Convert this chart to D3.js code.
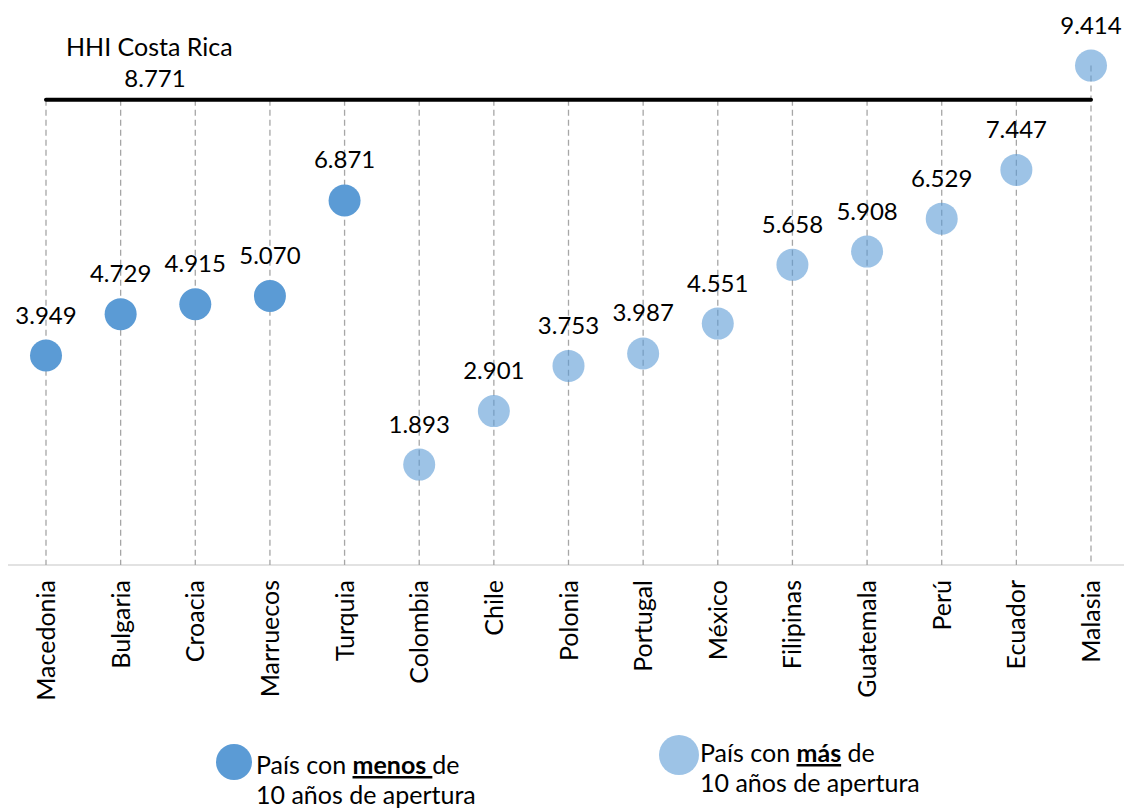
<!DOCTYPE html>
<html>
<head>
<meta charset="utf-8">
<script src="https://cdn.jsdelivr.net/npm/d3@7"></script>
<style>
  body { margin: 0; background: #fff; }
  svg text { font-family: Lato, "Open Sans", sans-serif; fill: #000; }
</style>
</head>
<body>
<div class="graph"></div>
<script>
// datos: HHI por pais
var paises = ["Macedonia", "Bulgaria", "Croacia", "Marruecos", "Turquia", "Colombia", "Chile",
  "Polonia", "Portugal", "México", "Filipinas", "Guatemala", "Perú", "Ecuador", "Malasia"];
var hhi = [3.949, 4.729, 4.915, 5.070, 6.871, 1.893, 2.901, 3.753, 3.987, 4.551, 5.658, 5.908, 6.529, 7.447, 9.414];
// 1 = menos de 10 años de apertura, 0 = mas
var menosDiez = [1, 1, 1, 1, 1, 0, 0, 0, 0, 0, 0, 0, 0, 0, 0];
var hhiCostaRica = 8.771;
var yDomain = [0, 10];

var width = 1124, height = 808;
var margin = { top: 34.5, bottom: 243, left: 46, right: 33 };

var svg = d3.select(".graph").append("svg")
  .attr("width", width)
  .attr("height", height);

var x = d3.scalePoint()
  .domain(paises)
  .range([margin.left, width - margin.right]);

var y = d3.scaleLinear()
  .domain(yDomain)
  .range([height - margin.bottom, margin.top]);

var azul = "#5B9BD5";
var fmt = d3.format(".3f");

// eje horizontal
svg.append("line")
  .attr("x1", 8).attr("x2", width)
  .attr("y1", y(0)).attr("y2", y(0))
  .attr("stroke", "#d9d9d9")
  .attr("stroke-width", 1.5);

// lineas de caida
svg.selectAll(".drop")
  .data(paises)
  .enter()
  .append("line")
  .attr("class", "drop")
  .attr("x1", function (d) { return x(d); })
  .attr("x2", function (d) { return x(d); })
  .attr("y1", function (d, i) { return y(Math.max(hhi[i], hhiCostaRica)); })
  .attr("y2", y(0))
  .attr("stroke", "#a6a6a6")
  .attr("stroke-width", 1.3)
  .attr("stroke-dasharray", "6,4");

// linea HHI Costa Rica
svg.append("line")
  .attr("x1", x(paises[0]))
  .attr("x2", x(paises[paises.length - 1]))
  .attr("y1", y(hhiCostaRica))
  .attr("y2", y(hhiCostaRica))
  .attr("stroke", "#000")
  .attr("stroke-width", 4)
  .attr("stroke-linecap", "round");

svg.append("text")
  .attr("x", 66).attr("y", 56)
  .style("font-size", "25px")
  .text("HHI Costa Rica");
svg.append("text")
  .attr("x", 155).attr("y", 87)
  .attr("text-anchor", "middle")
  .style("font-size", "24px")
  .text(fmt(hhiCostaRica));

// puntos
svg.selectAll(".punto")
  .data(hhi)
  .enter()
  .append("circle")
  .attr("class", "punto")
  .attr("cx", function (d, i) { return x(paises[i]); })
  .attr("cy", function (d) { return y(d); })
  .attr("r", 16)
  .attr("fill", azul)
  .attr("fill-opacity", function (d, i) { return menosDiez[i] ? 1 : 0.6; });

// etiquetas de valor
svg.selectAll(".valor")
  .data(hhi)
  .enter()
  .append("text")
  .attr("class", "valor")
  .attr("x", function (d, i) { return x(paises[i]); })
  .attr("y", function (d) { return y(d) - 32; })
  .attr("text-anchor", "middle")
  .style("font-size", "24px")
  .text(function (d) { return fmt(d); });

// etiquetas de categoria
svg.selectAll(".cat")
  .data(paises)
  .enter()
  .append("text")
  .attr("class", "cat")
  .attr("transform", function (d) { return "translate(" + (x(d) + 9) + "," + (y(0) + 15) + ") rotate(-90)"; })
  .attr("text-anchor", "end")
  .style("font-size", "25px")
  .text(function (d) { return d; });

// leyenda
var leyenda = [
  { cx: 234, cy: 762, r: 18, op: 1, tx: 256, ty: 774, pal: "menos ", resto: "de" },
  { cx: 679, cy: 755, r: 20, op: 0.6, tx: 700, ty: 762, pal: "más", resto: " de" }
];
leyenda.forEach(function (l) {
  svg.append("circle")
    .attr("cx", l.cx).attr("cy", l.cy).attr("r", l.r)
    .attr("fill", azul).attr("fill-opacity", l.op);
  var t = svg.append("text")
    .attr("x", l.tx).attr("y", l.ty)
    .style("font-size", "25px")
    .style("white-space", "pre");
  t.append("tspan").text("País con ");
  t.append("tspan").style("font-weight", "bold").style("text-decoration", "underline")
    .text(l.pal);
  t.append("tspan").text(l.resto);
  svg.append("text")
    .attr("x", l.tx).attr("y", l.ty + 30)
    .style("font-size", "25px")
    .text("10 años de apertura");
});
</script>
</body>
</html>
